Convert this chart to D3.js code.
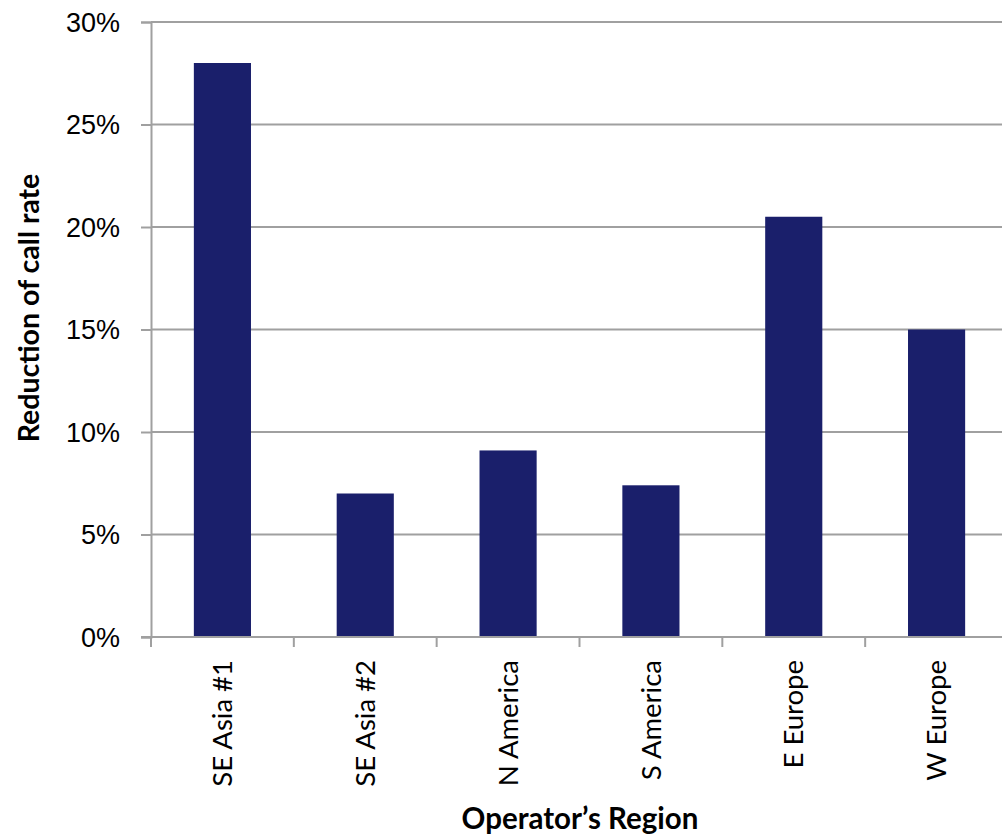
<!DOCTYPE html>
<html>
<head>
<meta charset="utf-8">
<script src="https://cdn.jsdelivr.net/npm/d3@7"></script>
<style>
  html, body { margin: 0; padding: 0; background: #fff; }
  svg { display: block; font-family: Lato, "Open Sans", sans-serif; }
</style>
</head>
<body>
<svg id="chart" width="1002" height="839"></svg>
<script>
// Reduction of call rate by operator region
const categories = ["SE Asia #1", "SE Asia #2", "N America", "S America", "E Europe", "W Europe"];
const reduction = [0.28, 0.07, 0.091, 0.074, 0.205, 0.15];
const yTicks = [0, 0.05, 0.10, 0.15, 0.20, 0.25, 0.30];
const xTitle = "Operator\u2019s Region";
const yTitle = "Reduction of call rate";

const svg = d3.select("#chart");
const plotLeft = 151, plotRight = 1008, plotTop = 22, plotBottom = 637;
const gridColor = "#a0a0a0";
const barColor = "#1a1f6b";

const x = d3.scaleBand()
  .domain(categories)
  .range([plotLeft, plotRight])
  .paddingInner(0.6)
  .paddingOuter(0.3);

const y = d3.scaleLinear()
  .domain([0, 0.30])
  .range([plotBottom, plotTop]);

// horizontal gridlines
svg.append("g")
  .selectAll("line")
  .data(yTicks.filter(d => d > 0))
  .join("line")
  .attr("x1", plotLeft).attr("x2", 1002)
  .attr("y1", d => y(d)).attr("y2", d => y(d))
  .attr("stroke", gridColor)
  .attr("stroke-width", 2);

// bars
svg.append("g")
  .selectAll("rect")
  .data(categories.map((c, i) => ({ c, v: reduction[i] })))
  .join("rect")
  .attr("x", d => x(d.c))
  .attr("width", x.bandwidth())
  .attr("y", d => y(d.v))
  .attr("height", d => y(0) - y(d.v))
  .attr("fill", barColor);

// y axis
const yAxis = svg.append("g")
  .attr("transform", `translate(${plotLeft},0)`)
  .call(d3.axisLeft(y).tickValues(yTicks).tickFormat(d3.format(".0%")).tickSize(10).tickPadding(21));
yAxis.select(".domain").attr("stroke", gridColor).attr("stroke-width", 2);
yAxis.selectAll(".tick line").attr("stroke", gridColor).attr("stroke-width", 2);
yAxis.selectAll(".tick text")
  .attr("fill", "#000")
  .style("font-size", "27px")
  .attr("dy", "0.35em");

// x axis baseline and boundary ticks
const step = x.step();
const gx = svg.append("g");
gx.append("line")
  .attr("x1", plotLeft - 10).attr("x2", 1002)
  .attr("y1", plotBottom).attr("y2", plotBottom)
  .attr("stroke", gridColor).attr("stroke-width", 2);
gx.selectAll("line.tk")
  .data(d3.range(categories.length + 1))
  .join("line")
  .attr("class", "tk")
  .attr("x1", i => plotLeft + i * step).attr("x2", i => plotLeft + i * step)
  .attr("y1", plotBottom).attr("y2", plotBottom + 10)
  .attr("stroke", gridColor).attr("stroke-width", 2);

// rotated category labels
gx.selectAll("text")
  .data(categories)
  .join("text")
  .attr("transform", d => `translate(${x(d) + x.bandwidth() / 2},${plotBottom + 23}) rotate(-90)`)
  .attr("text-anchor", "end")
  .attr("dy", "0.35em")
  .style("font-size", "27.5px")
  .attr("fill", "#000")
  .text(d => d);

// axis titles
svg.append("text")
  .attr("x", 580)
  .attr("y", 829)
  .attr("text-anchor", "middle")
  .style("font-size", "29.5px")
  .style("font-weight", "bold")
  .text(xTitle);

svg.append("text")
  .attr("transform", "translate(39,308) rotate(-90)")
  .attr("text-anchor", "middle")
  .style("font-size", "28.5px")
  .style("font-weight", "bold")
  .text(yTitle);
</script>
</body>
</html>
